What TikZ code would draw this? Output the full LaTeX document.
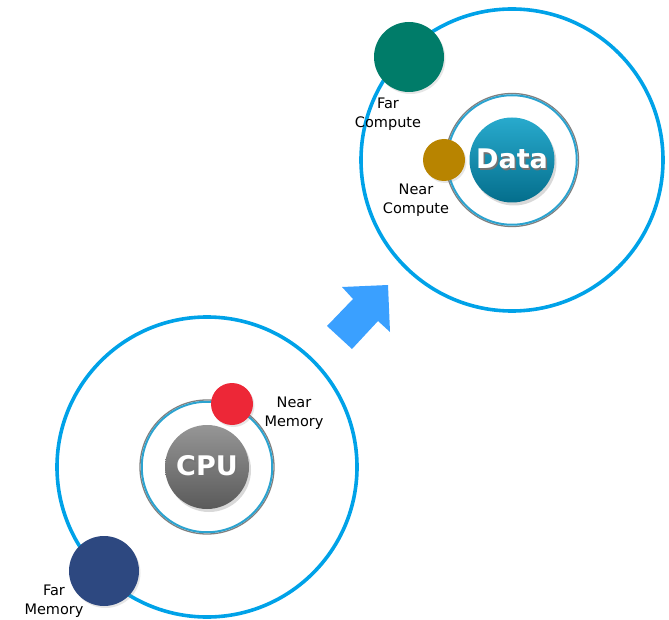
\documentclass[tikz,border=0pt]{standalone}
\usepackage{fontspec}
\setmainfont{DejaVu Sans}
\usetikzlibrary{shadows,shadings}
\definecolor{orbit}{RGB}{0,162,232}
\definecolor{ringblue}{RGB}{43,163,208}
\definecolor{ringgray}{RGB}{128,128,128}
\definecolor{arrowblue}{RGB}{58,160,255}
\definecolor{memred}{RGB}{237,39,55}
\definecolor{memblue}{RGB}{45,72,128}
\definecolor{compgreen}{RGB}{0,124,105}
\definecolor{compgold}{RGB}{184,132,0}
\definecolor{cputop}{RGB}{150,150,150}
\definecolor{cpubot}{RGB}{90,90,90}
\definecolor{datatop}{RGB}{40,170,205}
\definecolor{databot}{RGB}{4,110,140}
% white label with a soft dark offset copy underneath
\newcommand{\shadowedlabel}[1]{\makebox[0pt][l]{\hspace{1.5pt}\raisebox{-2pt}{\textcolor{black!55}{#1}}}#1}
\tikzset{
  orbitline/.style={draw=orbit, line width=3.6pt},
  innerring/.style={circle, draw=ringgray, line width=1.3pt, inner sep=0pt},
  innerblue/.style={circle, draw=ringblue, line width=2pt, inner sep=0pt},
  bigball/.style={circle, inner sep=0pt, minimum size=#1,
    drop shadow={shadow xshift=2pt, shadow yshift=-3pt, opacity=0.3}},
  smallball/.style={circle, inner sep=0pt, minimum size=#1,
    drop shadow={shadow xshift=1.5pt, shadow yshift=-2pt, opacity=0.2}},
  balltext/.style={font=\bfseries\fontsize{27}{27}\selectfont, text=white, inner sep=0pt},
  lbl/.style={font=\fontsize{14.5}{18.5}\selectfont, align=center, text=black, inner sep=0pt}
}
\begin{document}
\begin{tikzpicture}[x=1pt, y=-1pt]
\useasboundingbox (0,0) rectangle (669,620);

% ---------- CPU system ----------
\node[circle, minimum size=300pt, inner sep=0pt, orbitline] (cpuorbit) at (207,467) {};
\node[innerring, minimum size=134pt] (cpuring) at (207,467) {};
\node[innerblue, minimum size=130.5pt] (cpuringin) at (207,467) {};
\node[bigball=84pt, top color=cputop, bottom color=cpubot] (cpu) at (207,467) {};
\node[balltext] (cputext) at (207,467) {\shadowedlabel{CPU}};

\node[smallball=42pt, fill=memred] (nearmem) at (232,404) {};
\node[lbl] (nearmemlbl) at (294,413) {Near\\Memory};

\node[smallball=70pt, fill=memblue] (farmem) at (104,571) {};
\node[lbl] (farmemlbl) at (54,601) {Far\\Memory};

% ---------- transition arrow ----------
\fill[arrowblue] (342,287) -- (388,285) -- (390,332) -- (378,321) -- (352,349)
  -- (327,326) -- (353,299) -- cycle;

% ---------- Data system ----------
\node[circle, minimum size=302pt, inner sep=0pt, orbitline] (dataorbit) at (512,160) {};
\node[innerring, minimum size=133pt] (dataring) at (512,160) {};
\node[innerblue, minimum size=129.5pt] (dataringin) at (512,160) {};
\node[bigball=85pt, top color=datatop, bottom color=databot] (data) at (512,160) {};
\node[balltext] (datatext) at (512,160) {\shadowedlabel{Data}};

\node[smallball=42pt, fill=compgold] (nearcomp) at (444,160) {};
\node[lbl] (nearcomplbl) at (416,200) {Near\\Compute};

\node[smallball=70pt, fill=compgreen] (farcomp) at (409,57) {};
\node[lbl] (farcomplbl) at (388,114) {Far\\Compute};
\end{tikzpicture}
\end{document}
